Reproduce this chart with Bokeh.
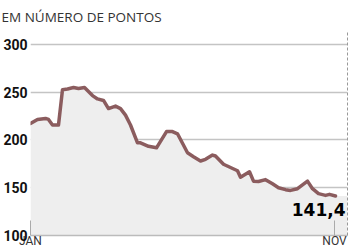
from bokeh.plotting import figure
from bokeh.models import Range1d, FixedTicker, Label, LinearAxis
from bokeh.embed import file_html
from bokeh.resources import INLINE

# Day of year (0 = 1 Jan) and index value in points
days = [0, 7, 15, 18, 22, 28, 32, 37, 43, 48, 54, 62, 67, 73, 78, 85, 90, 95,
        100, 107, 110, 118, 126, 136, 142, 147, 157, 163, 170, 175, 182, 185,
        193, 200, 207, 210, 219, 223, 228, 235, 242, 248, 255, 260, 267, 277,
        282, 288, 295, 299, 305]
values = [217.4, 221.5, 222.6, 221.5, 215.7, 215.7, 252.7, 253.4, 255.0, 254.0,
          255.0, 246.5, 243.0, 241.4, 232.9, 235.5, 232.9, 226.0, 215.7, 197.0,
          197.0, 193.4, 191.8, 208.8, 208.8, 206.5, 186.6, 182.5, 178.0, 179.8,
          184.2, 183.2, 174.6, 171.2, 167.8, 161.0, 166.7, 156.9, 156.5, 158.5,
          154.1, 150.0, 148.0, 147.2, 149.0, 156.9, 149.0, 143.8, 142.0, 143.1,
          141.4]
y_ticks = [100, 150, 200, 250, 300]
x_ticks = [0, 304]
x_tick_labels = ["JAN", "NOV"]
title_text = "EM NÚMERO DE PONTOS"
last_label = "141,4"

X_END = 317
Y_MIN, Y_MAX = 100, 313.6

p = figure(width=350, height=250, output_backend="svg", toolbar_location=None,
           x_range=Range1d(0, X_END), y_range=Range1d(Y_MIN, Y_MAX),
           min_border_left=30, min_border_right=3, min_border_top=30,
           min_border_bottom=12)
p.outline_line_color = None
p.background_fill_color = "white"
p.border_fill_color = "white"

p.title.text = title_text
p.title.align = "left"
p.title.offset = -29
p.title.standoff = 11
p.title.text_font = "Open Sans"
p.title.text_font_style = "normal"
p.title.text_font_size = "13.5px"
p.title.text_color = "#333333"

# area under the line, extended flat to the right edge of the frame
fill_x = days + [X_END]
fill_y = values + [values[-1]]
p.varea(x=fill_x, y1=[Y_MIN] * len(fill_x), y2=fill_y, fill_color="#eeeeee")
p.line(x=days, y=values, line_color="#8b5c5e", line_width=3.5,
       line_join="round", line_cap="round")

# axes
p.xgrid.grid_line_color = None
p.ygrid.ticker = FixedTicker(ticks=y_ticks)
p.ygrid.grid_line_color = "#c4c4c4"
p.ygrid.grid_line_width = 1.5

p.yaxis.ticker = FixedTicker(ticks=y_ticks)
p.yaxis.axis_line_color = None
p.yaxis.major_tick_line_color = None
p.yaxis.minor_tick_line_color = None
p.yaxis.major_tick_out = 0
p.yaxis.major_tick_in = 0
p.yaxis.minor_tick_out = 0
p.yaxis.major_label_standoff = 3
p.yaxis.major_label_text_font = "Roboto"
p.yaxis.major_label_text_font_style = "bold"
p.yaxis.major_label_text_font_size = "14px"
p.yaxis.major_label_text_color = "#111111"

p.xaxis.ticker = FixedTicker(ticks=x_ticks)
p.xaxis.major_label_overrides = dict(zip(x_ticks, x_tick_labels))
p.xaxis.axis_line_color = "#bbbbbb"
p.xaxis.axis_line_width = 1.5
p.xaxis.major_tick_in = 15
p.xaxis.major_tick_out = 0
p.xaxis.minor_tick_out = 0
p.xaxis.major_tick_line_color = "#aaaaaa"
p.xaxis.minor_tick_line_color = None
p.xaxis.major_label_standoff = -2
p.xaxis.major_label_text_font = "Roboto"
p.xaxis.major_label_text_font_size = "12px"
p.xaxis.major_label_text_color = "#333333"

# dashed right edge
right = LinearAxis(ticker=FixedTicker(ticks=[]), axis_line_color="#999999",
                   axis_line_dash="3 2", axis_line_width=1,
                   major_tick_line_color=None, minor_tick_line_color=None,
                   major_tick_out=0, minor_tick_out=0, major_label_standoff=0)
p.add_layout(right, "right")

p.add_layout(Label(x=days[-1], y=values[-1], text=last_label,
                   x_offset=10, y_offset=-7, text_align="right",
                   text_baseline="top", text_font="DejaVu Sans",
                   text_font_style="bold", text_font_size="17px",
                   text_color="#000000"))

open("out.html", "w").write(file_html(p, INLINE))
